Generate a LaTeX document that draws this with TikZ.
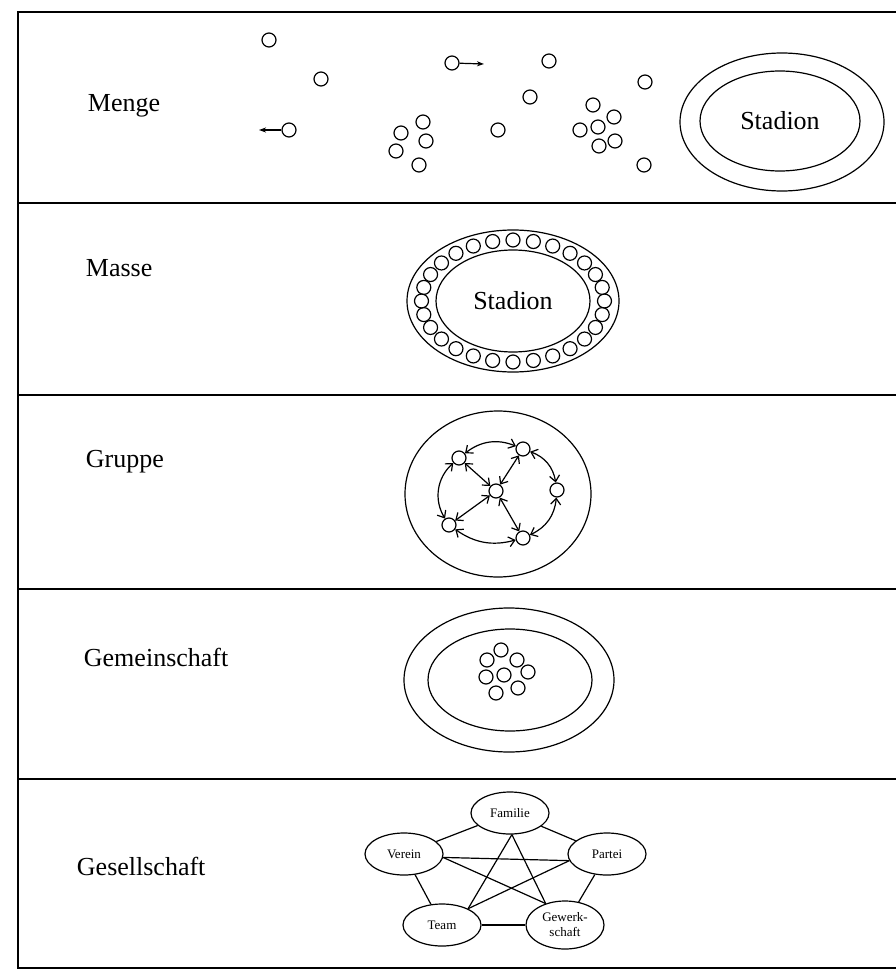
\documentclass[tikz,border=0pt]{standalone}
\usepackage{fontspec}
\setmainfont{Liberation Serif}
\usetikzlibrary{shapes, shapes.geometric, arrows, arrows.meta}

\begin{document}
\begin{tikzpicture}[x=1pt, y=-1pt, line width=1.2pt, >={Stealth[length=7pt, width=5pt, inset=2pt]},
    person/.style={circle, draw, minimum size=14pt, inner sep=0pt},
    rowname/.style={anchor=west, font=\fontsize{26}{30}\selectfont},
    stadium/.style={ellipse, draw, inner sep=0pt, font=\fontsize{26}{30}\selectfont},
    verband/.style={ellipse, draw, minimum width=78pt, minimum height=42pt, inner sep=0pt,
        align=center, font=\fontsize{13}{15}\selectfont}]
    \useasboundingbox (0,0) rectangle (896,971);

    % frame
    \draw[line width=1.5pt] (896,12) -- (18,12) -- (18,968) -- (896,968);
    \foreach \y in {203,395,589,779}
        \draw[line width=1.5pt] (18,\y) -- (896,\y);

    \node[rowname] (Menge)        at (84,106) {Menge};
    \node[rowname] (Masse)        at (82,268) {Masse};
    \node[rowname] (Gruppe)       at (82,462) {Gruppe};
    \node[rowname] (Gemeinschaft) at (80,657) {Gemeinschaft};
    \node[rowname] (Gesellschaft) at (73,866) {Gesellschaft};

    % Menge
    \foreach \x/\y [count=\i] in {269/40, 321/79, 549/61, 530/97, 645/82, 498/130,
        423/122, 401/133, 426/141, 396/151, 419/165,
        593/105, 614/117, 580/130, 598/127, 615/141, 599/146, 644/165}
        \node[person] (MengeP\i) at (\x,\y) {};
    \node[person] (GehtLinks)  at (289,130) {};
    \node[person] (GehtRechts) at (452,63)  {};
    \coordinate (ZielLinks)  at (259,130);
    \coordinate (ZielRechts) at (484,64);
    \draw[->] (GehtLinks)  -- (ZielLinks);
    \draw[->] (GehtRechts) -- (ZielRechts);
    \node[stadium, minimum width=204pt, minimum height=138pt] (MengeRing) at (782,122) {};
    \node[stadium, minimum width=160pt, minimum height=100pt] (MengeStadion) at (780,121) {Stadion};

    % Masse
    \node[stadium, minimum width=212pt, minimum height=142pt] (MasseRing) at (513,301) {};
    \node[stadium, minimum width=154pt, minimum height=102pt] (MasseStadion) at (513,301) {Stadion};
    \foreach \i in {1,...,28}
        \node[person] (MasseP\i) at ({513+91.5*cos(360*\i/28)}, {301+61*sin(360*\i/28)}) {};

    % Gruppe
    \node[stadium, minimum width=186pt, minimum height=166pt] (GruppeRand) at (498,494) {};
    \node[person] (ObenLinks)   at (459,458) {};
    \node[person] (ObenRechts)  at (523,449) {};
    \node[person] (Mitte)       at (496,491) {};
    \node[person] (Rechts)      at (557,490) {};
    \node[person] (UntenLinks)  at (449,525) {};
    \node[person] (UntenRechts) at (523,538) {};

    \path[<->, >={Straight Barb[length=6pt, width=10pt]}]
    (ObenLinks)
    edge [bend left=30]    (ObenRechts)
    edge                   (Mitte)
    edge [bend right=40]   (UntenLinks)
    (ObenRechts)
    edge                   (Mitte)
    edge [bend left=30]    (Rechts)
    (Mitte)
    edge                   (UntenLinks)
    edge                   (UntenRechts)
    (Rechts)
    edge [bend left=30]    (UntenRechts)
    (UntenLinks)
    edge [bend right=25]   (UntenRechts);

    % Gemeinschaft
    \node[stadium, minimum width=210pt, minimum height=144pt] (GemeinschaftRing) at (509,680) {};
    \node[stadium, minimum width=164pt, minimum height=102pt] (GemeinschaftInnen) at (510,680) {};
    \foreach \x/\y [count=\i] in {501/650, 487/660, 517/660, 528/672,
        504/675, 486/677, 518/688, 496/693}
        \node[person] (GemeinschaftP\i) at (\x,\y) {};

    % Gesellschaft
    \node[verband] (Familie)      at (510,813) {Familie};
    \node[verband] (Verein)       at (404,854) {Verein};
    \node[verband] (Partei)       at (607,854) {Partei};
    \node[verband] (Team)         at (442,925) {Team};
    \node[verband, minimum height=48pt] (Gewerkschaft) at (565,925) {Gewerk-\\schaft};

    \path
    (Familie)
    edge    (Verein)
    edge    (Partei)
    (Familie.-85)
    edge    (Team.32)
    edge    (Gewerkschaft.132)
    (Verein.-5)
    edge    (Partei.190)
    edge    (Gewerkschaft.132)
    (Team.32)
    edge    (Partei.190)
    (Verein)
    edge    (Team)
    (Partei)
    edge    (Gewerkschaft)
    (Team)
    edge    (Gewerkschaft);

\end{tikzpicture}
\end{document}
